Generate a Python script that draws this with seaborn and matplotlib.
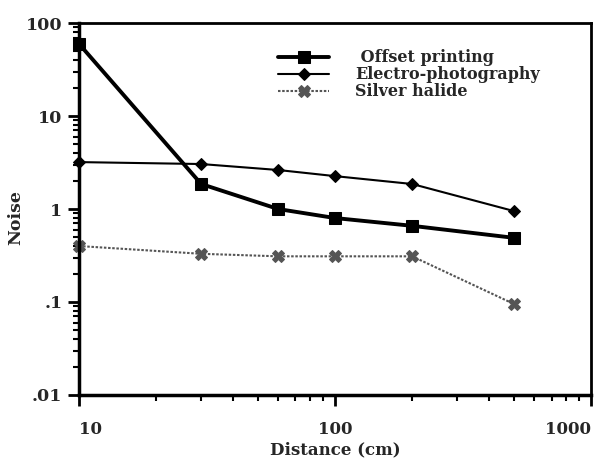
import pandas as pd
import seaborn as sns
import matplotlib.pyplot as plt
from matplotlib.ticker import FixedLocator, LogLocator, NullFormatter
from matplotlib.transforms import ScaledTranslation

# distances (cm) and noise values
distance = [10, 30, 60, 100, 200, 500]
offset_printing = [60, 1.86, 1.0, 0.8, 0.66, 0.49]
electro_photography = [3.2, 3.05, 2.63, 2.26, 1.86, 0.95]
silver_halide = [0.40, 0.33, 0.31, 0.31, 0.31, 0.095]

series_names = [' Offset printing', 'Electro-photography', 'Silver halide']
xtick_values = [10, 100, 1000]
xtick_labels = ['10', '100', '1000']
ytick_values = [0.01, 0.1, 1, 10, 100]
ytick_labels = ['.01', '.1', '1', '10', '100']

sns.set_style('ticks')
plt.rcParams['font.family'] = ['DejaVu Serif', 'DejaVu Sans']

df = pd.DataFrame({
    'Distance': distance * 3,
    'Noise': offset_printing + electro_photography + silver_halide,
    'Series': [s for s in series_names for _ in distance],
})

fig = plt.figure(figsize=(6.12, 4.63), dpi=100)
ax = fig.add_axes([0.129, 0.147, 0.837, 0.803])

styles = {
    series_names[0]: dict(color='black', lw=2.8, marker='s', ms=8, ls='-'),
    series_names[1]: dict(color='black', lw=1.5, marker='D', ms=6, ls='-'),
    series_names[2]: dict(color='#555555', lw=1.5, marker='X', ms=8, ls=(0, (1.2, 0.8))),
}
for name in series_names:
    sub = df[df['Series'] == name]
    st = styles[name]
    sns.lineplot(data=sub, x='Distance', y='Noise', ax=ax, label=name,
                 color=st['color'], linewidth=st['lw'], marker=st['marker'],
                 markersize=st['ms'], linestyle=st['ls'],
                 markeredgecolor=st['color'], clip_on=False)

ax.set_xscale('log')
ax.set_yscale('log')
ax.set_xlim(10, 1000)
ax.set_ylim(0.01, 100)

ax.xaxis.set_major_locator(FixedLocator(xtick_values))
ax.set_xticklabels(xtick_labels, fontsize=12, fontweight='bold')
xlabs = ax.xaxis.get_majorticklabels()
xlabs[0].set_horizontalalignment('left')
# pull the last label inside the figure like the reference
xlabs[-1].set_horizontalalignment('right')
xlabs[-1].set_transform(xlabs[-1].get_transform()
                        + ScaledTranslation(0.16, 0, fig.dpi_scale_trans))
ax.yaxis.set_major_locator(FixedLocator(ytick_values))
ax.set_yticklabels(ytick_labels, fontsize=12.5, fontweight='bold')
for axis in (ax.xaxis, ax.yaxis):
    axis.set_minor_locator(LogLocator(base=10, subs=range(2, 10)))
    axis.set_minor_formatter(NullFormatter())

ax.tick_params(which='major', direction='out', length=8, width=2, color='black')
ax.tick_params(axis='x', which='major', pad=11)
ax.tick_params(axis='y', which='major', pad=4)
ax.tick_params(which='minor', direction='out', length=4, width=1.5, color='black')

for side in ['left', 'bottom']:
    ax.spines[side].set_linewidth(2.5)
for side in ['top', 'right']:
    ax.spines[side].set_linewidth(2)
    ax.spines[side].set_visible(True)
for sp in ax.spines.values():
    sp.set_color('black')

ax.set_xlabel('Distance (cm)', fontsize=12, fontweight='bold', labelpad=2)
ax.set_ylabel('Noise', fontsize=12.5, fontweight='bold')
ax.yaxis.set_label_coords(-0.107, 0.478)

leg = ax.legend(loc='upper left', bbox_to_anchor=(0.389, 0.93), frameon=False,
                prop={'size': 11.5, 'weight': 'bold'}, handlelength=3.2,
                handletextpad=1.6, labelspacing=0.0, borderpad=0, borderaxespad=0)

fig.savefig('out.png', dpi=100)
